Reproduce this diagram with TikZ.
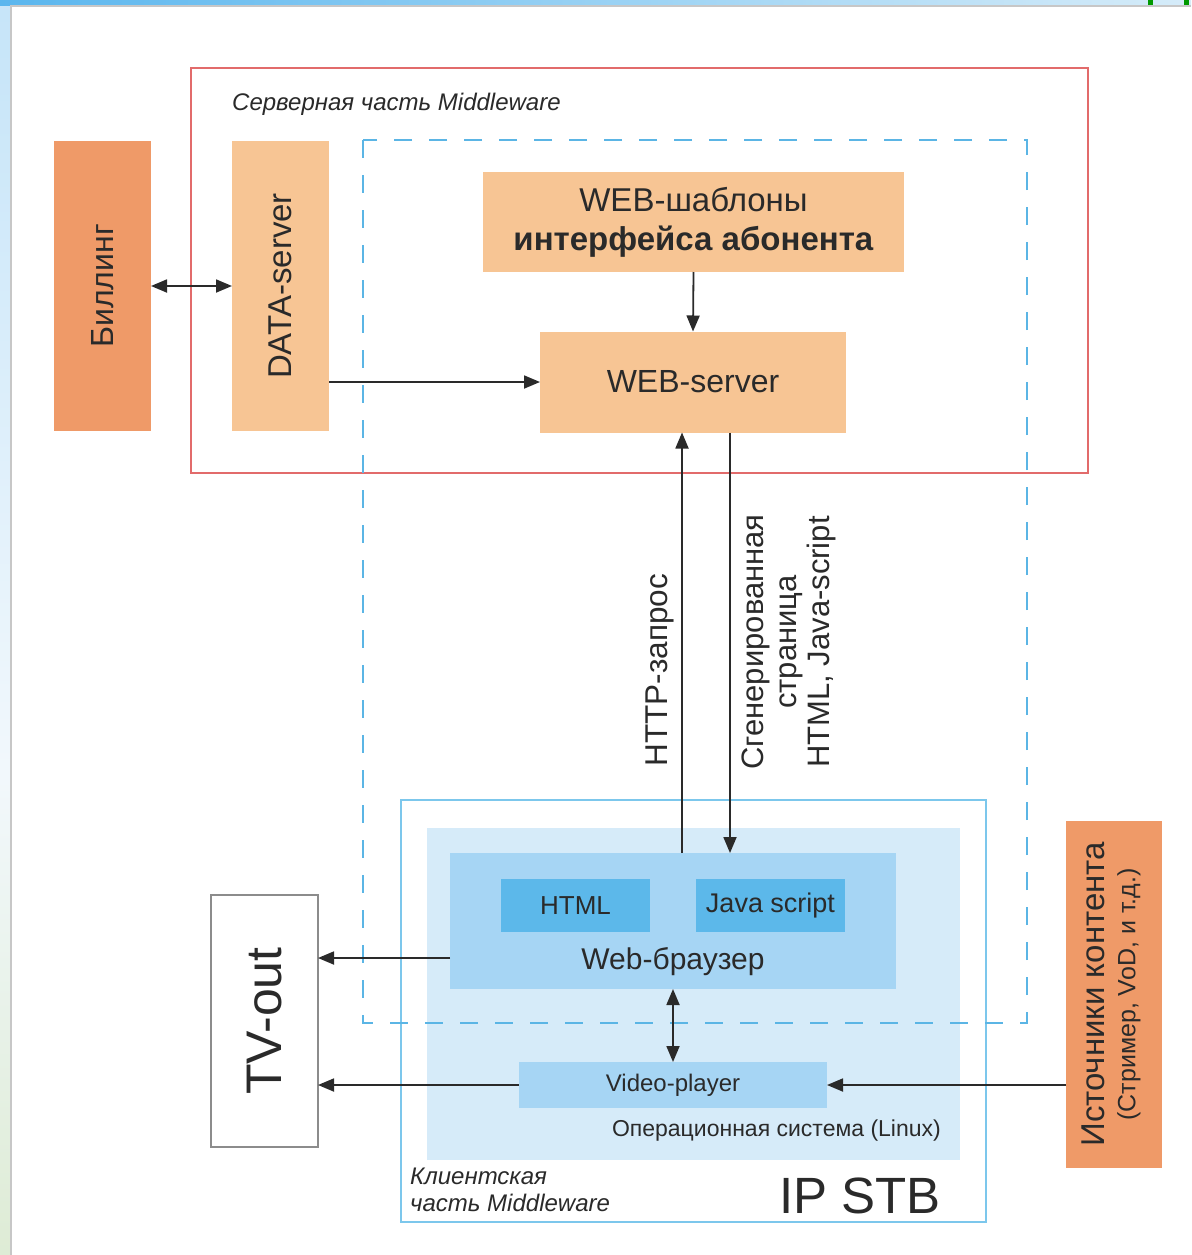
\documentclass[tikz,border=0pt]{standalone}
\usepackage{fontspec}
\setmainfont{Liberation Sans}
\usetikzlibrary{arrows.meta,calc}

\definecolor{txt}{HTML}{2A2A2A}
\definecolor{orangedark}{HTML}{EF9A68}
\definecolor{orangelight}{HTML}{F7C594}
\definecolor{serverred}{HTML}{E26B6B}
\definecolor{dashblue}{HTML}{5BB5E5}
\definecolor{stbblue}{HTML}{7CC7EC}
\definecolor{osfill}{HTML}{D6EBF9}
\definecolor{browserfill}{HTML}{A6D5F4}
\definecolor{codefill}{HTML}{5CB8EA}
\definecolor{tvgray}{HTML}{8C8C8C}
\definecolor{edgeA}{HTML}{E6EFCB}
\definecolor{edgeB}{HTML}{A9CD90}
\definecolor{edgeC}{HTML}{DDEBD3}
\definecolor{edgeD}{HTML}{F2F8FC}
\definecolor{edgeE}{HTML}{C9E6F9}
\definecolor{edgeF}{HTML}{B9DEF7}
\definecolor{edgeG}{HTML}{5AB6EE}
\definecolor{topfade}{HTML}{D6ECF9}

% soft page edge on the left side
\pgfdeclareverticalshading{leftstrip}{100bp}{
  color(0bp)=(edgeA);
  color(8bp)=(edgeB);
  color(24bp)=(edgeC);
  color(44bp)=(edgeD);
  color(72bp)=(edgeE);
  color(95bp)=(edgeF);
  color(97bp)=(edgeG);
  color(100bp)=(edgeG)}

\tikzset{
  plainbox/.style={draw=none, inner sep=0pt, outer sep=0pt},
  obox/.style={plainbox, fill=orangedark},
  lbox/.style={plainbox, fill=orangelight},
  label/.style={text=txt, inner sep=0pt},
  arr/.style={line width=1.8pt, draw=txt, -{Triangle[length=16pt,width=13pt]}},
  darr/.style={line width=1.8pt, draw=txt, {Triangle[length=16pt,width=13pt]}-{Triangle[length=16pt,width=13pt]}},
}

\begin{document}
\begin{tikzpicture}[x=1pt, y=-1pt]
\useasboundingbox (0,0) rectangle (1191,1255);

% page frame
\shade[shading=leftstrip] (0,0) rectangle (10,1255);
\shade[left color=edgeG, right color=topfade] (0,0) rectangle (1191,6);
\fill[white] (10,5) rectangle (1191,1255);
\draw[black!22, line width=2pt] (11,1255) -- (11,6) -- (1191,6);
\fill[green!60!black] (1148,0) rectangle (1153,5);
\fill[green!60!black] (1184,0) rectangle (1189,5);

% server part of the middleware
\node[plainbox, draw=serverred, line width=1.5pt, minimum width=897, minimum height=405] (server) at (639.5,270.5) {};
\node[label, anchor=west, font=\fontsize{24}{27}\selectfont\itshape] (servertitle) at (232,104) {Серверная часть Middleware};

% client side box
\node[plainbox, draw=stbblue, line width=2pt, fill=white, minimum width=585, minimum height=422] (stb) at (693.5,1011) {};
\node[plainbox, fill=osfill, minimum width=533, minimum height=332] (os) at (693.5,994) {};

% boxes of the server side
\node[obox, minimum width=97, minimum height=290] (billing) at (102.5,286) {};
\node[label, rotate=90, font=\fontsize{32}{34}\selectfont] (billingt) at (billing) {Биллинг};
\node[lbox, minimum width=97, minimum height=290] (data) at (280.5,286) {};
\node[label, rotate=90, font=\fontsize{33}{35}\selectfont] (datat) at (data) {DATA-server};
\node[lbox, minimum width=421, minimum height=100, text=txt, align=center,
      font=\fontsize{33}{39}\selectfont] (templates) at (693.5,222)
      {WEB-шаблоны\\\textbf{интерфейса абонента}};
\node[lbox, minimum width=306, minimum height=101, text=txt,
      font=\fontsize{32}{34}\selectfont] (webserver) at (693,382) {WEB-server};

% browser and player
\node[plainbox, fill=browserfill, minimum width=446, minimum height=136] (browser) at (673,921) {};
\node[plainbox, fill=codefill, minimum width=149, minimum height=53, text=txt,
      font=\fontsize{26}{28}\selectfont] (html) at (575.5,905.5) {HTML};
\node[plainbox, fill=codefill, minimum width=149, minimum height=53, text=txt,
      font=\fontsize{27}{29}\selectfont] (js) at (770.5,905.5) {Java script};
\node[label, font=\fontsize{30}{33}\selectfont] (browsert) at (673,962) {Web-браузер};
\node[plainbox, fill=browserfill, minimum width=308, minimum height=46, text=txt,
      font=\fontsize{24}{26}\selectfont] (video) at (673,1085) {Video-player};
\node[label, anchor=east, font=\fontsize{23}{25}\selectfont] (ost) at (941,1131) {Операционная система (Linux)};
\node[label, anchor=north west, align=left, font=\fontsize{24}{27}\selectfont\itshape] (clientt) at (410,1168) {Клиентская\\часть Middleware};
\node[label, font=\fontsize{51}{53}\selectfont] (stbt) at (860,1196) {IP STB};

% dashed boundary of the web application
\draw[dashblue, line width=2pt, dash pattern=on 18pt off 17pt] (363,140) rectangle (1027,1023);

% TV output and content sources
\node[plainbox, draw=tvgray, line width=2pt, fill=white, minimum width=107, minimum height=252] (tvout) at (264.5,1021) {};
\node[label, rotate=90, font=\fontsize{50}{52}\selectfont] (tvoutt) at (tvout) {TV-out};
\node[obox, minimum width=96, minimum height=347] (sources) at (1114,994.5) {};
\node[label, rotate=90, align=center, font=\fontsize{33}{33}\selectfont] (sourcest) at (1111,994.5)
  {Источники контента\\[-2pt]{\fontsize{25}{26}\selectfont(Стример, VoD, и т.д.)}};

% connectors
\coordinate (httpx) at (682,0);
\coordinate (pagex) at (730,0);
\coordinate (tvy) at (0,958);
\draw[darr] (billing.east) -- (data.west);
\draw[arr] (data.east |- webserver.west) -- (webserver.west);
\draw[arr] (templates.south) -- (webserver.north);
\draw[arr] (browser.north -| httpx) -- (webserver.south -| httpx);
\draw[arr] (webserver.south -| pagex) -- (browser.north -| pagex);
\draw[darr] (browser.south) -- (video.north);
\draw[arr] (browser.west |- tvy) -- (tvout.east |- tvy);
\draw[arr] (video.west) -- (video.west -| tvout.east);
\draw[arr] (sources.west |- video.east) -- (video.east);

% arrow captions
\node[label, rotate=90, font=\fontsize{31.5}{33}\selectfont] (httpt) at (660,670) {HTTP-запрос};
\node[label, rotate=90, align=center, font=\fontsize{31}{33}\selectfont] (paget) at (789,642)
  {Сгенерированная\\страница\\HTML, Java-script};
\end{tikzpicture}
\end{document}
